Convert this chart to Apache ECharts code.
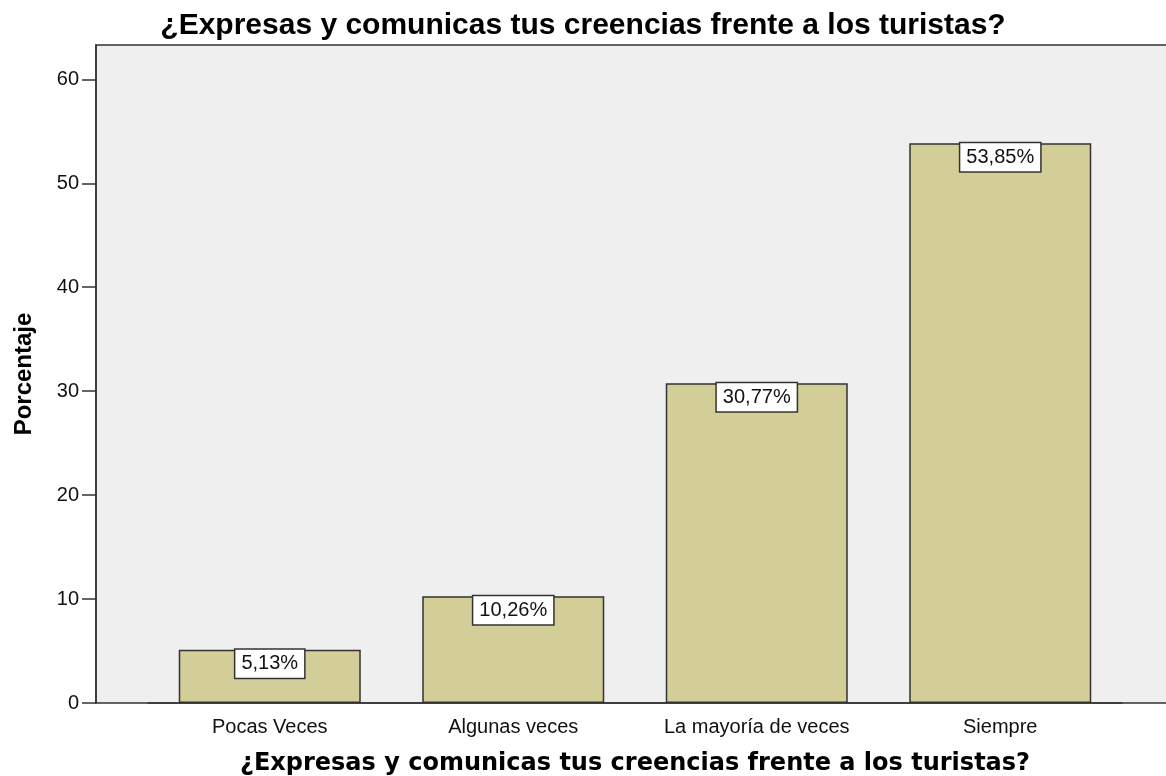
<!DOCTYPE html>
<html>
<head>
<meta charset="utf-8">
<script src="https://cdn.jsdelivr.net/npm/echarts@6/dist/echarts.min.js"></script>
<style>
html, body { margin: 0; padding: 0; background: #fff; }
#chart { width: 1166px; height: 776px; }
</style>
</head>
<body>
<div id="chart"></div>
<script>
// categorías y porcentajes
var categories = ['Pocas Veces', 'Algunas veces', 'La mayoría de veces', 'Siempre'];
var percentages = [5.13, 10.26, 30.77, 53.85];
var yTicks = [0, 10, 20, 30, 40, 50, 60];
var yMax = 63.3;
var chartTitle = '¿Expresas y comunicas tus creencias frente a los turistas?';

var chart = echarts.init(document.getElementById('chart'));

chart.setOption({
	backgroundColor: '#ffffff',
	animation: false,
	title: {
		text: chartTitle,
		left: 'center',
		top: 6,
		textStyle: {
			fontFamily: 'Liberation Sans',
			fontWeight: 'bold',
			fontSize: 30,
			color: '#000'
		}
	},
	grid: [
		// marco y fondo gris
		{
			left: 96,
			right: -3,
			top: 45,
			bottom: 73,
			outerBoundsMode: 'none',
			show: true,
			backgroundColor: '#efefef',
			borderColor: '#333',
			borderWidth: 1.5
		},
		// zona de las barras
		{
			left: 148,
			right: 44,
			top: 45,
			bottom: 73,
			outerBoundsMode: 'none'
		}
	],
	xAxis: [
		{
			gridIndex: 0,
			type: 'category',
			data: [''],
			show: false
		},
		{
			gridIndex: 1,
			type: 'category',
			data: categories,
			axisLine: { show: true, lineStyle: { color: '#333', width: 1.5 } },
			axisTick: {
				alignWithLabel: true,
				length: 8,
				lineStyle: { color: '#333', width: 1.5 }
			},
			axisLabel: {
				fontFamily: 'Liberation Sans',
				fontSize: 20,
				color: '#111',
				margin: 14
			},
			name: chartTitle,
			nameLocation: 'middle',
			nameGap: 49,
			nameTextStyle: {
				fontFamily: 'DejaVu Sans',
				fontWeight: 'bold',
				fontSize: 24,
				color: '#000'
			}
		}
	],
	yAxis: [
		{
			gridIndex: 0,
			type: 'value',
			min: 0,
			max: yMax,
			axisLine: { show: true, lineStyle: { color: '#333', width: 1.5 } },
			axisTick: {
				show: true,
				length: 14,
				customValues: yTicks,
				lineStyle: { color: '#333', width: 1.5 }
			},
			axisLabel: {
				customValues: yTicks,
				fontFamily: 'Liberation Sans',
				fontSize: 20,
				color: '#111',
				margin: 17
			},
			splitLine: { show: false },
			name: 'Porcentaje',
			nameLocation: 'middle',
			nameGap: 60,
			nameTextStyle: {
				fontFamily: 'Liberation Sans',
				fontWeight: 'bold',
				fontSize: 24,
				color: '#000'
			}
		},
		{
			gridIndex: 1,
			type: 'value',
			min: 0,
			max: yMax,
			show: false
		}
	],
	series: [
		{
			type: 'bar',
			xAxisIndex: 1,
			yAxisIndex: 1,
			data: percentages,
			barWidth: 182,
			itemStyle: {
				color: '#d3ce97',
				borderColor: '#333',
				borderWidth: 1.5
			},
			label: {
				show: true,
				position: 'insideTop',
				distance: 0,
				formatter: function (p) {
					return p.value.toFixed(2).replace('.', ',') + '%'
				},
				fontFamily: 'Liberation Sans',
				fontSize: 20,
				color: '#111',
				backgroundColor: '#ffffff',
				borderColor: '#333',
				borderWidth: 1.5,
				padding: [4, 6]
			}
		}
	]
})
</script>
</body>
</html>
